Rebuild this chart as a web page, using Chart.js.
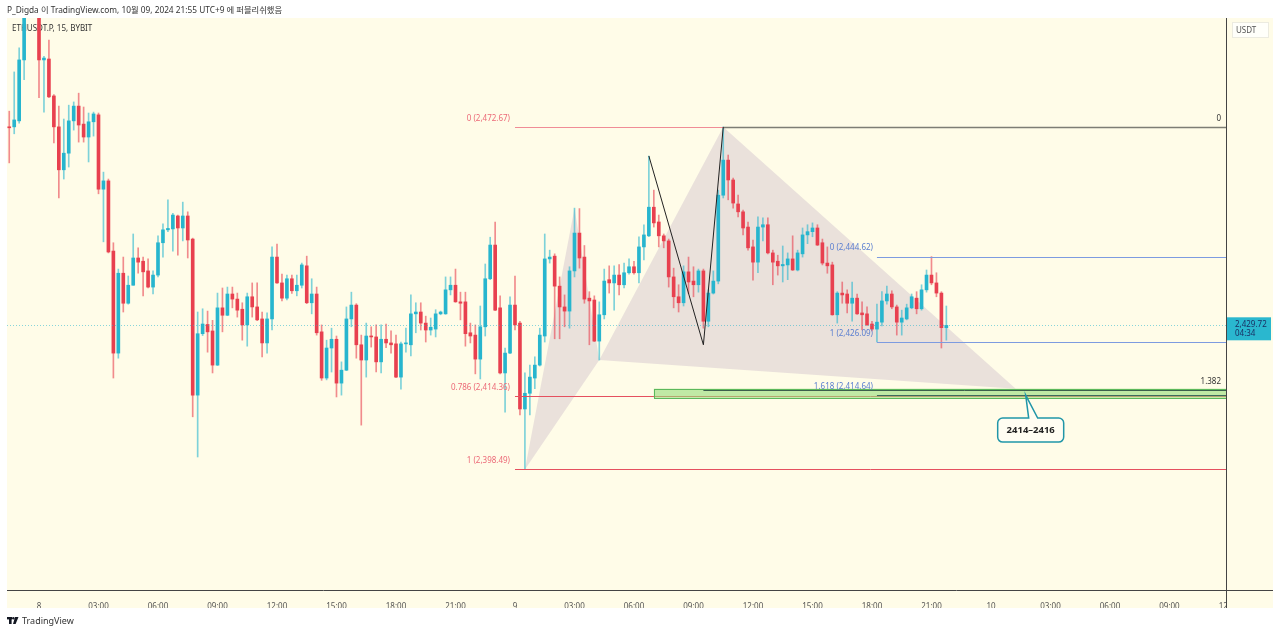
<!DOCTYPE html>
<html>
<head>
<meta charset="utf-8">
<script src="https://cdn.jsdelivr.net/npm/chart.js@4.4.1/dist/chart.umd.min.js"></script>
<style>
  html, body { margin: 0; padding: 0; background: #fff; }
  #wrap { position: relative; width: 1280px; height: 634px; overflow: hidden; }
  #chart { position: absolute; left: 0; top: 0; }
  .hdr { position: absolute; left: 7px; top: 3px; font: 8.3px "Noto Sans", "Noto Sans CJK KR", sans-serif; color: #333; white-space: nowrap; }
  .ftr { position: absolute; left: 7px; top: 614px; font: 9px "Noto Sans", sans-serif; color: #333; white-space: nowrap; display: flex; align-items: center; gap: 3px; }
</style>
</head>
<body>
<div id="wrap">
  <canvas id="chart" width="1280" height="634"></canvas>
  <div class="hdr">P_Digda 이 TradingView.com, 10월 09, 2024 21:55 UTC+9 에 퍼블리쉬했음</div>
  <div class="ftr">
    <svg width="12" height="8" viewBox="0 0 12 8"><rect x="0" y="0" width="5" height="2.4" fill="#131722"/><rect x="2" y="0" width="2.6" height="7" fill="#131722"/><circle cx="6.3" cy="1.3" r="1.2" fill="#131722"/><polygon points="8,0 11.5,0 8.6,7 6,7" fill="#131722"/></svg>
    <span>TradingView</span>
  </div>
</div>
<script>
// bar 0 = 8 Oct 00:00, one bar = 15 min; first candle sits 6 bars earlier
const firstBar = -6;

const opens = [
  2472.7, 2472.7, 2474.0, 2487.2, 2497.5, 2500.8, 2498.2, 2487.2, 2487.4, 2479.4,
  2472.7, 2463.4, 2467.0, 2474.0, 2477.2, 2473.3, 2470.5, 2473.8, 2475.3, 2459.2,
  2461.0, 2445.8, 2423.7, 2441.0, 2434.5, 2438.4, 2444.3, 2443.6, 2441.5, 2438.0,
  2440.6, 2447.6, 2450.4, 2450.6, 2453.4, 2450.8, 2453.4, 2448.4, 2414.6, 2427.9,
  2429.9, 2428.5, 2421.1, 2433.5, 2431.9, 2436.5, 2435.4, 2433.2, 2429.8, 2435.9,
  2433.7, 2431.1, 2425.9, 2431.1, 2444.5, 2438.9, 2435.6, 2439.8, 2437.2, 2438.4,
  2442.6, 2434.6, 2436.5, 2428.3, 2418.3, 2424.8, 2426.7, 2417.2, 2420.0, 2431.1,
  2434.1, 2425.5, 2422.2, 2427.4, 2427.2, 2421.8, 2426.7, 2425.9, 2425.7, 2418.5,
  2425.7, 2425.5, 2432.2, 2432.6, 2430.2, 2428.7, 2428.9, 2432.2, 2432.2, 2437.4,
  2438.4, 2434.8, 2434.8, 2428.1, 2427.6, 2422.4, 2429.4, 2439.8, 2447.1, 2433.5,
  2419.4, 2423.7, 2434.1, 2430.2, 2411.6, 2415.0, 2418.3, 2421.1, 2427.4, 2444.1,
  2444.7, 2438.2, 2433.7, 2432.8, 2441.5, 2449.7, 2444.5, 2435.6, 2435.2, 2426.3,
  2432.0, 2439.6, 2438.9, 2440.6, 2438.5, 2441.1, 2442.4, 2441.1, 2446.7, 2449.1,
  2455.3, 2452.1, 2449.1, 2448.0, 2440.2, 2435.9, 2434.6, 2441.3, 2439.3, 2438.5,
  2441.5, 2430.6, 2436.7, 2439.3, 2457.9, 2465.5, 2461.2, 2456.0, 2454.3, 2451.0,
  2446.7, 2443.4, 2451.0, 2451.5, 2445.4, 2443.6, 2442.6, 2442.8, 2444.1, 2441.7,
  2445.2, 2449.3, 2450.0, 2450.8, 2447.6, 2443.2, 2442.8, 2432.0, 2436.7, 2436.5,
  2434.5, 2435.6, 2432.4, 2432.2, 2430.0, 2428.9, 2430.4, 2435.0, 2436.5, 2433.7,
  2430.4, 2431.1, 2433.5, 2435.6, 2433.3, 2437.4, 2440.6, 2438.9, 2436.7, 2429.2
];
const highs = [
  2476.1, 2484.6, 2489.8, 2499.0, 2502.5, 2503.0, 2499.0, 2488.0, 2491.5, 2479.7,
  2477.2, 2474.4, 2477.4, 2478.1, 2480.0, 2477.0, 2475.7, 2475.9, 2475.7, 2462.9,
  2461.4, 2447.6, 2441.9, 2444.5, 2440.4, 2449.5, 2446.5, 2444.5, 2444.1, 2441.5,
  2449.1, 2451.7, 2456.9, 2454.0, 2453.6, 2456.4, 2454.3, 2448.6, 2432.6, 2433.3,
  2432.8, 2430.8, 2436.7, 2437.8, 2438.0, 2438.0, 2436.7, 2434.6, 2436.7, 2438.9,
  2438.9, 2432.6, 2432.4, 2446.7, 2447.3, 2440.8, 2440.6, 2440.6, 2440.6, 2443.2,
  2444.7, 2439.8, 2438.0, 2429.8, 2426.5, 2429.1, 2427.4, 2421.8, 2433.7, 2436.9,
  2434.4, 2427.6, 2430.2, 2429.4, 2429.8, 2429.8, 2430.0, 2428.5, 2427.6, 2426.1,
  2429.1, 2436.3, 2434.6, 2434.6, 2431.7, 2431.3, 2433.1, 2432.8, 2440.2, 2440.2,
  2441.9, 2436.9, 2436.9, 2430.2, 2429.8, 2433.9, 2443.0, 2448.8, 2452.1, 2436.1,
  2424.8, 2435.9, 2440.4, 2430.6, 2419.4, 2421.1, 2422.9, 2429.1, 2449.5, 2446.0,
  2445.2, 2440.2, 2436.3, 2442.4, 2455.1, 2455.0, 2447.0, 2437.0, 2436.1, 2434.8,
  2441.9, 2442.6, 2442.6, 2442.9, 2443.2, 2444.1, 2443.6, 2448.9, 2451.5, 2466.4,
  2459.0, 2453.6, 2449.5, 2448.4, 2442.1, 2438.5, 2442.6, 2444.5, 2442.4, 2441.9,
  2441.9, 2437.4, 2441.5, 2459.0, 2472.7, 2466.6, 2461.6, 2457.9, 2454.7, 2452.1,
  2448.2, 2453.2, 2453.0, 2453.0, 2446.0, 2444.9, 2446.9, 2445.4, 2449.1, 2446.0,
  2450.8, 2451.5, 2451.9, 2451.5, 2448.4, 2446.7, 2443.4, 2437.0, 2439.1, 2437.4,
  2439.1, 2436.5, 2434.8, 2433.7, 2430.6, 2434.3, 2437.0, 2438.2, 2437.2, 2434.1,
  2433.0, 2434.3, 2436.5, 2437.0, 2438.5, 2441.7, 2444.6, 2441.1, 2437.0, 2433.9
];
const lows = [
  2464.9, 2471.2, 2473.5, 2482.9, 2496.6, 2497.0, 2479.0, 2475.9, 2479.0, 2469.2,
  2457.3, 2461.4, 2464.0, 2472.0, 2469.4, 2469.4, 2465.1, 2470.7, 2458.2, 2447.8,
  2445.4, 2418.3, 2422.6, 2432.6, 2434.3, 2438.4, 2441.0, 2436.1, 2437.8, 2436.5,
  2440.2, 2444.5, 2450.0, 2445.8, 2444.9, 2448.0, 2444.3, 2409.9, 2401.2, 2427.5,
  2423.9, 2419.4, 2421.0, 2428.3, 2431.8, 2433.5, 2431.5, 2426.5, 2425.2, 2431.5,
  2430.7, 2422.9, 2423.7, 2428.7, 2438.8, 2435.0, 2435.2, 2436.6, 2436.1, 2437.8,
  2434.4, 2432.2, 2427.6, 2417.8, 2417.9, 2419.6, 2414.2, 2414.6, 2419.9, 2429.4,
  2422.6, 2408.1, 2418.5, 2425.0, 2419.6, 2419.4, 2424.9, 2423.7, 2418.4, 2415.9,
  2423.9, 2423.1, 2428.1, 2428.7, 2426.1, 2427.6, 2427.2, 2432.0, 2432.1, 2436.3,
  2434.7, 2430.9, 2425.2, 2425.9, 2419.2, 2418.1, 2427.4, 2439.6, 2432.9, 2419.2,
  2410.9, 2423.6, 2428.7, 2410.3, 2398.5, 2410.3, 2416.0, 2420.9, 2426.1, 2443.2,
  2426.8, 2426.8, 2429.4, 2429.1, 2440.2, 2442.1, 2434.5, 2425.5, 2426.2, 2422.2,
  2431.1, 2436.7, 2433.0, 2436.3, 2437.8, 2440.8, 2440.8, 2438.9, 2443.9, 2448.9,
  2451.0, 2446.7, 2446.5, 2438.0, 2433.5, 2432.6, 2433.9, 2436.6, 2435.9, 2436.9,
  2429.1, 2429.4, 2436.5, 2438.7, 2457.3, 2456.9, 2455.1, 2453.2, 2449.3, 2446.0,
  2439.5, 2441.1, 2448.0, 2445.2, 2438.5, 2440.6, 2439.1, 2439.6, 2441.6, 2441.5,
  2444.5, 2447.4, 2448.9, 2447.0, 2442.8, 2441.0, 2431.9, 2430.2, 2434.5, 2432.4,
  2430.6, 2432.1, 2428.7, 2429.7, 2428.5, 2426.1, 2429.6, 2434.3, 2433.3, 2427.6,
  2427.6, 2430.9, 2433.3, 2432.2, 2433.0, 2436.9, 2438.5, 2435.9, 2424.8, 2426.5
];
const closes = [
  2472.5, 2474.2, 2487.2, 2497.5, 2500.8, 2498.2, 2487.2, 2487.6, 2479.2, 2472.7,
  2463.4, 2467.0, 2474.0, 2477.2, 2473.1, 2470.5, 2473.8, 2475.5, 2459.2, 2461.0,
  2445.6, 2423.7, 2441.0, 2434.5, 2438.4, 2444.3, 2443.4, 2441.3, 2438.0, 2440.6,
  2447.6, 2450.4, 2450.7, 2453.6, 2450.8, 2453.4, 2448.2, 2414.6, 2427.9, 2430.0,
  2428.3, 2421.1, 2433.5, 2431.9, 2436.5, 2435.4, 2433.0, 2429.8, 2435.9, 2433.7,
  2430.9, 2425.9, 2431.1, 2444.5, 2438.9, 2435.6, 2439.8, 2437.2, 2438.4, 2442.8,
  2434.6, 2436.5, 2428.1, 2418.3, 2424.8, 2426.7, 2417.2, 2420.0, 2431.1, 2434.1,
  2425.5, 2422.2, 2427.4, 2427.2, 2421.8, 2426.7, 2425.9, 2425.5, 2418.5, 2425.7,
  2425.9, 2432.2, 2432.6, 2430.2, 2428.7, 2429.3, 2432.2, 2432.6, 2437.4, 2438.4,
  2434.8, 2434.5, 2427.9, 2427.4, 2422.4, 2429.4, 2439.8, 2447.1, 2433.0, 2419.4,
  2423.7, 2434.1, 2429.8, 2411.6, 2415.0, 2418.5, 2421.1, 2427.6, 2444.1, 2444.5,
  2438.2, 2433.7, 2432.8, 2441.5, 2449.7, 2444.3, 2435.4, 2435.0, 2426.3, 2432.0,
  2439.3, 2438.9, 2440.6, 2438.5, 2441.1, 2442.4, 2441.1, 2446.7, 2449.3, 2455.3,
  2451.9, 2449.1, 2448.0, 2440.2, 2435.9, 2434.6, 2441.3, 2439.1, 2438.5, 2441.5,
  2430.6, 2436.7, 2439.3, 2457.9, 2465.5, 2461.2, 2456.2, 2454.3, 2450.8, 2446.5,
  2443.4, 2451.0, 2451.5, 2445.4, 2443.4, 2442.6, 2442.9, 2444.1, 2441.7, 2445.4,
  2449.3, 2450.0, 2450.8, 2447.1, 2443.2, 2442.6, 2432.0, 2436.7, 2436.3, 2434.5,
  2435.6, 2432.2, 2432.0, 2429.8, 2428.9, 2430.4, 2435.0, 2436.5, 2433.7, 2430.4,
  2431.3, 2433.5, 2435.9, 2433.3, 2437.4, 2440.6, 2438.9, 2436.7, 2429.2, 2429.7
];

const tickBars = [0, 12, 24, 36, 48, 60, 72, 84, 96, 108, 120, 132, 144, 156, 168, 180, 192, 204, 216, 228, 240];
const tickLabels = ['8', '03:00', '06:00', '09:00', '12:00', '15:00', '18:00', '21:00',
  '9', '03:00', '06:00', '09:00', '12:00', '15:00', '18:00', '21:00',
  '10', '03:00', '06:00', '09:00', '12:00'];
const priceTicks = [2375, 2380, 2385, 2390, 2395, 2400, 2405, 2410, 2415, 2420, 2425, 2430,
  2435, 2440, 2445, 2450, 2455, 2460, 2465, 2470, 2475, 2480, 2485, 2490];

const lastPrice = 2429.72;
const countdown = '04:34';

// drawings on the chart (bar, price)
const redFibStart = 96;
const redFibLevels = ['0', '0.786', '1'];
const redFibPrices = [2472.67, 2414.36, 2398.49];
const blueFibStart = 169;
const blueFibLevels = ['0', '1', '1.618'];
const blueFibPrices = [2444.62, 2426.09, 2414.64];
const patternBars = [98, 108, 113, 138, 197];
const patternPrices = [2398.49, 2455.1, 2422.2, 2472.67, 2416.0];
const legBars = [123, 134, 138];
const legPrices = [2466.4, 2425.5, 2472.67];
const extBars = [138, 134];
const extLevels = ['0', '1.382'];
const extPrices = [2472.67, 2415.7];
const zoneStart = 124;
const zonePrices = [2414, 2416];
const calloutBar = 199;
const calloutPrice = 2414.6;
const calloutText = '2414–2416';

const UP = '#27b5ce', DOWN = '#e8404f';
const UP_WICK = 'rgba(39,181,206,0.6)', DOWN_WICK = 'rgba(232,64,79,0.6)';
const BG = '#fffce8';
const FONT = '"Noto Sans", "Open Sans", sans-serif';

const bars = opens.map((o, k) => firstBar + k);
const isUp = closes.map((c, k) => c >= opens[k]);
const fmt = v => v.toLocaleString('en-US', { minimumFractionDigits: 2, maximumFractionDigits: 2 });

const panel = { left: 7, top: 18, right: 1273, bottom: 608 };

const tvPlugin = {
  id: 'tv',
  beforeDraw(chart) {
    const ctx = chart.ctx;
    ctx.save();
    ctx.fillStyle = BG;
    ctx.fillRect(panel.left, panel.top, panel.right - panel.left, panel.bottom - panel.top);
    ctx.restore();
  },
  beforeDatasetsDraw(chart) {
    const ctx = chart.ctx, a = chart.chartArea;
    const X = v => chart.scales.x.getPixelForValue(v);
    const Y = v => chart.scales.y.getPixelForValue(v);
    ctx.save();
    ctx.beginPath();
    ctx.rect(a.left, a.top, a.right - a.left, a.bottom - a.top);
    ctx.clip();
    // pattern shading: X-A-B and B-C-D
    ctx.fillStyle = 'rgba(150,120,170,0.2)';
    ctx.beginPath();
    ctx.moveTo(X(patternBars[0]), Y(patternPrices[0]));
    ctx.lineTo(X(patternBars[1]), Y(patternPrices[1]));
    ctx.lineTo(X(patternBars[2]), Y(patternPrices[2]));
    ctx.closePath();
    ctx.moveTo(X(patternBars[2]), Y(patternPrices[2]));
    ctx.lineTo(X(patternBars[3]), Y(patternPrices[3]));
    ctx.lineTo(X(patternBars[4]), Y(patternPrices[4]));
    ctx.closePath();
    ctx.fill();
    // symbol title
    ctx.fillStyle = '#333';
    ctx.font = '8px ' + FONT;
    ctx.textBaseline = 'middle';
    ctx.fillText('ETHUSDT.P, 15, BYBIT', 12, 29);
    ctx.restore();
  },
  afterDatasetsDraw(chart) {
    const ctx = chart.ctx, a = chart.chartArea;
    const X = v => chart.scales.x.getPixelForValue(v);
    const Y = v => chart.scales.y.getPixelForValue(v);
    const hline = (x0, p, color, w, dash) => {
      const y = Math.round(Y(p)) + 0.5;
      ctx.strokeStyle = color; ctx.lineWidth = w; ctx.setLineDash(dash || []);
      ctx.beginPath(); ctx.moveTo(x0, y); ctx.lineTo(a.right, y); ctx.stroke();
      ctx.setLineDash([]);
    };
    const label = (txt, x, y, color, align) => {
      ctx.fillStyle = color; ctx.textAlign = align || 'right'; ctx.textBaseline = 'middle';
      ctx.fillText(txt, x, y);
    };
    ctx.save();
    ctx.beginPath();
    ctx.rect(a.left, a.top, a.right - a.left, a.bottom - a.top);
    ctx.clip();
    ctx.font = '8px ' + FONT;

    // last price dotted line
    hline(a.left, lastPrice, 'rgba(39,181,206,0.55)', 1, [1, 2]);

    // red fib retracement
    const rx = X(redFibStart);
    redFibPrices.forEach((p, k) => {
      hline(rx, p, k === 0 ? '#f08c96' : '#e5505f', 1);
      label(redFibLevels[k] + ' (' + fmt(p) + ')', rx - 5, Y(p) - 8.5, '#ec6a78');
    });

    // green target zone
    const zx = X(zoneStart), zt = Y(zonePrices[1]), zb = Y(zonePrices[0]);
    ctx.fillStyle = 'rgba(150,220,120,0.6)';
    ctx.fillRect(zx, zt, a.right - zx, zb - zt);
    ctx.strokeStyle = '#5cb85c'; ctx.lineWidth = 1;
    ctx.strokeRect(Math.round(zx) + 0.5, Math.round(zt) + 0.5, a.right - zx, Math.round(zb - zt));

    // extension lines from C and D
    extPrices.forEach((p, k) => {
      hline(X(extBars[k]), p, k === 0 ? '#7d7d74' : '#3d5f4d', k === 0 ? 1.5 : 1);
      label(extLevels[k], a.right - 5, Y(p) - 8.5, '#333');
    });

    // blue fib
    const bx = X(blueFibStart);
    blueFibPrices.forEach((p, k) => {
      hline(bx, p, k === 2 ? '#3f6a5e' : '#7d9be0', 1);
      label(blueFibLevels[k] + ' (' + fmt(p) + ')', bx - 4, Y(p) - 8.5, '#5b7fd0');
    });

    // black legs
    ctx.strokeStyle = '#222'; ctx.lineWidth = 1;
    ctx.beginPath();
    legBars.forEach((b, k) => {
      if (k === 0) ctx.moveTo(X(b), Y(legPrices[k])); else ctx.lineTo(X(b), Y(legPrices[k]));
    });
    ctx.stroke();

    // callout
    const ax = X(calloutBar), ay = Y(calloutPrice);
    const bl = ax - 28, bt = ay + 23, bw = 66, bh = 24, r = 5;
    ctx.beginPath();
    ctx.moveTo(bl + r, bt);
    ctx.lineTo(ax + 3, bt);
    ctx.lineTo(ax, ay);
    ctx.lineTo(ax + 12, bt);
    ctx.lineTo(bl + bw - r, bt);
    ctx.arcTo(bl + bw, bt, bl + bw, bt + r, r);
    ctx.lineTo(bl + bw, bt + bh - r);
    ctx.arcTo(bl + bw, bt + bh, bl + bw - r, bt + bh, r);
    ctx.lineTo(bl + r, bt + bh);
    ctx.arcTo(bl, bt + bh, bl, bt + bh - r, r);
    ctx.lineTo(bl, bt + r);
    ctx.arcTo(bl, bt, bl + r, bt, r);
    ctx.closePath();
    ctx.fillStyle = '#fffdf2';
    ctx.fill();
    ctx.strokeStyle = '#2196a8'; ctx.lineWidth = 1.5;
    ctx.stroke();
    ctx.font = 'bold 9.5px ' + FONT;
    label(calloutText, bl + bw / 2, bt + bh / 2 + 0.5, '#222', 'center');
    ctx.restore();

    // price scale strip and panel borders
    ctx.save();
    ctx.fillStyle = BG;
    ctx.fillRect(a.right, panel.top, panel.right - a.right, panel.bottom - panel.top);
    ctx.strokeStyle = '#444'; ctx.lineWidth = 1;
    ctx.beginPath();
    ctx.moveTo(Math.round(a.right) + 0.5, panel.top);
    ctx.lineTo(Math.round(a.right) + 0.5, panel.bottom);
    ctx.moveTo(panel.left, Math.round(a.bottom) + 0.5);
    ctx.lineTo(panel.right, Math.round(a.bottom) + 0.5);
    ctx.stroke();
    ctx.restore();
  },
  afterDraw(chart) {
    const ctx = chart.ctx, a = chart.chartArea;
    const Y = v => chart.scales.y.getPixelForValue(v);
    ctx.save();
    // currency box
    ctx.fillStyle = '#fffffa';
    ctx.fillRect(a.right + 6, 22, 37, 16);
    ctx.strokeStyle = '#ecebe0';
    ctx.strokeRect(a.right + 6.5, 22.5, 36, 15);
    ctx.font = '8px ' + FONT;
    ctx.fillStyle = '#555';
    ctx.textBaseline = 'middle';
    ctx.fillText('USDT', a.right + 10, 30.5);
    // last price tag
    const py = Y(lastPrice);
    ctx.fillStyle = '#2ab7cf';
    ctx.fillRect(a.right + 1, py - 8, 44, 23);
    ctx.fillStyle = '#1a2f63';
    ctx.fillText(fmt(lastPrice), a.right + 9, py - 1);
    ctx.fillText(countdown, a.right + 9, py + 8.5);
    ctx.restore();
  }
};

new Chart(document.getElementById('chart'), {
  type: 'bar',
  data: {
    datasets: [
      {
        label: 'body',
        data: bars.map((b, k) => ({ x: b, y: [opens[k], closes[k]] })),
        backgroundColor: isUp.map(u => u ? UP : DOWN),
        barThickness: 3,
        minBarLength: 1,
        grouped: false,
        borderWidth: 0,
        clip: 0,
        order: 0
      },
      {
        label: 'wick',
        data: bars.map((b, k) => ({ x: b, y: [lows[k], highs[k]] })),
        backgroundColor: isUp.map(u => u ? UP_WICK : DOWN_WICK),
        barThickness: 1,
        grouped: false,
        borderWidth: 0,
        clip: 0,
        order: 1
      }
    ]
  },
  options: {
    responsive: false,
    animation: false,
    devicePixelRatio: 1,
    layout: { padding: { left: 7, right: 7, top: 18, bottom: 26 } },
    plugins: { legend: { display: false }, tooltip: { enabled: false } },
    scales: {
      x: {
        type: 'linear',
        offset: false,
        min: -6.454,
        max: 239.4,
        grid: { display: false, offset: false },
        border: { display: false },
        afterFit: s => { s.height = 18; },
        afterBuildTicks: s => { s.ticks = tickBars.map(v => ({ value: v })); },
        ticks: {
          autoSkip: false,
          maxRotation: 0,
          padding: 4,
          color: '#555',
          font: { family: FONT, size: 8 },
          callback: (v, i) => tickLabels[i]
        }
      },
      y: {
        position: 'right',
        min: 2372.39,
        max: 2496.28,
        z: 1,
        grid: { display: false, drawTicks: false },
        border: { display: false },
        afterFit: s => { s.width = 47; },
        afterBuildTicks: s => { s.ticks = priceTicks.map(v => ({ value: v })); },
        ticks: {
          padding: 9,
          color: '#555',
          font: { family: FONT, size: 8 },
          callback: v => fmt(v)
        }
      }
    }
  },
  plugins: [tvPlugin]
});
</script>
</body>
</html>
